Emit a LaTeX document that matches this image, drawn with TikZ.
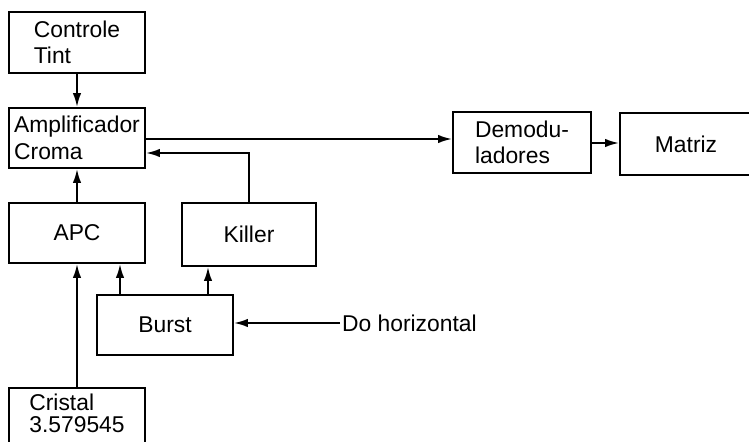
\documentclass[tikz,border=0pt]{standalone}
\usepackage{fontspec}
\setmainfont{Liberation Sans}
\usetikzlibrary{arrows.meta}

\begin{document}
\begin{tikzpicture}[
  x=0.2mm, y=-0.2mm,
  blk/.style={draw,line width=1.1pt,align=left,inner sep=2pt,font=\fontsize{13}{15}\selectfont,minimum height=12mm},
  arr/.style={-{Latex[length=2.8mm,width=1.7mm]},line width=1.1pt}
]
\useasboundingbox (0,0) rectangle (749,441);
% blocks
\node[blk,minimum width=27.2mm,minimum height=12.2mm] (ctl) at (77,42.5) {Controle\\Tint};
\node[blk,minimum width=27.2mm] (amp) at (77,138) {Amplificador\\Croma};
\node[blk,minimum width=27.2mm] (apc) at (77,233) {APC};
\node[blk,minimum width=26.8mm,minimum height=12.6mm] (killer) at (249,234.5) {Killer};
\node[blk,minimum width=27.2mm] (burst) at (165,325) {Burst};
\node[blk,minimum width=27.2mm] (cristal) at (77,418)
  {\raisebox{1pt}[\height][\depth]{\renewcommand{\arraystretch}{0.77}\begin{tabular}{@{}l@{}}Cristal\\3.579545\end{tabular}}};
\node[blk,minimum width=27.6mm,minimum height=12.2mm] (demod) at (522,142.5) {Demodu-\\ladores};
\node[blk,minimum width=26.4mm,minimum height=12.4mm] (matriz) at (686,144) {Matriz};
\node[font=\fontsize{13}{15}\selectfont,anchor=west,inner sep=1pt] (hor) at (340,323) {Do horizontal};
% connections
\draw[arr] (ctl) -- (amp);
\draw[arr] (apc) -- (amp);
\draw[arr] (cristal.north) -- (apc.south);
\draw[arr] (amp.east |- 0,139) -- (demod.west |- 0,139);
\draw[arr] (demod.east |- 0,143) -- (matriz.west |- 0,143);
\draw[arr] (killer.north) |- (amp.east |- 0,153);
\draw[arr] (burst.north -| 120,0) -- (apc.south -| 120,0);
\draw[arr] (burst.north -| 208,0) -- (killer.south -| 208,0);
\draw[arr] (hor.west) -- (burst.east |- hor.west);
\end{tikzpicture}
\end{document}
